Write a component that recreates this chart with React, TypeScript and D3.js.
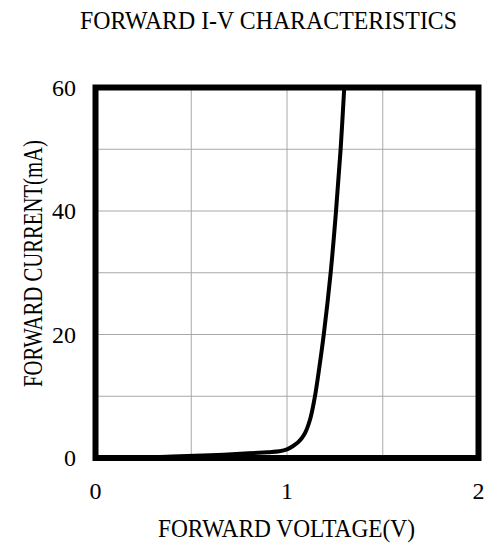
import React, { useEffect, useRef } from "react";
import * as d3 from "d3";

// forward voltage (V) vs forward current (mA)
const voltage = [0, 0.2, 0.4, 0.6, 0.8, 0.9, 0.96, 1.0, 1.03, 1.06, 1.09, 1.12, 1.146, 1.168, 1.192, 1.228, 1.256, 1.28, 1.299];
const current = [0, 0.05, 0.25, 0.45, 0.75, 0.95, 1.1, 1.4, 1.9, 2.6, 3.8, 6.2, 10, 14.5, 20, 30, 40, 50, 60];

const xTicks = [0, 1, 2];
const yTicks = [0, 20, 40, 60];
const xGrid = [0.5, 1, 1.5];
const yGrid = [10, 20, 30, 40, 50];

const title = "FORWARD I-V CHARACTERISTICS";
const xTitle = "FORWARD VOLTAGE(V)";
const yTitle = "FORWARD CURRENT(mA)";

export default function App() {
  const ref = useRef<SVGSVGElement>(null);

  useEffect(() => {
    const svg = d3.select(ref.current);
    svg.selectAll("*").remove();

    const font = "'Liberation Serif', 'Times New Roman', serif";
    const x = d3.scaleLinear().domain([0, 2]).range([95.5, 478.5]);
    const y = d3.scaleLinear().domain([0, 60]).range([458, 87.5]);

    svg.append("rect").attr("width", 497).attr("height", 545).attr("fill", "#fff");

    // grid
    svg
      .append("g")
      .selectAll("line")
      .data(xGrid)
      .join("line")
      .attr("x1", (d) => x(d))
      .attr("x2", (d) => x(d))
      .attr("y1", y(0))
      .attr("y2", y(60))
      .attr("stroke", "#a8a8a8")
      .attr("stroke-width", 1);

    svg
      .append("g")
      .selectAll("line")
      .data(yGrid)
      .join("line")
      .attr("x1", x(0))
      .attr("x2", x(2))
      .attr("y1", (d) => y(d))
      .attr("y2", (d) => y(d))
      .attr("stroke", "#a8a8a8")
      .attr("stroke-width", 1);

    // curve
    const pts = voltage.map((v, i) => [v, current[i]] as [number, number]);
    const line = d3
      .line<[number, number]>()
      .x((d) => x(d[0]))
      .y((d) => y(d[1]))
      .curve(d3.curveCatmullRom.alpha(0.5));

    svg
      .append("path")
      .datum(pts)
      .attr("fill", "none")
      .attr("stroke", "#000")
      .attr("stroke-width", 4)
      .attr("d", line);

    // frame
    svg
      .append("rect")
      .attr("x", x(0))
      .attr("y", y(60))
      .attr("width", x(2) - x(0))
      .attr("height", y(0) - y(60))
      .attr("fill", "none")
      .attr("stroke", "#000")
      .attr("stroke-width", 6);

    // tick labels
    svg
      .append("g")
      .selectAll("text")
      .data(xTicks)
      .join("text")
      .attr("x", (d) => x(d))
      .attr("y", 499)
      .attr("text-anchor", "middle")
      .attr("font-family", font)
      .attr("font-size", 24)
      .text((d) => d);

    svg
      .append("g")
      .selectAll("text")
      .data(yTicks)
      .join("text")
      .attr("x", 76)
      .attr("y", (d) => y(d))
      .attr("dy", "0.34em")
      .attr("text-anchor", "end")
      .attr("font-family", font)
      .attr("font-size", 24)
      .text((d) => d);

    // titles
    svg
      .append("text")
      .attr("x", 80)
      .attr("y", 29)
      .attr("font-family", font)
      .attr("font-size", 25)
      .attr("textLength", 377)
      .attr("lengthAdjust", "spacingAndGlyphs")
      .text(title);

    svg
      .append("text")
      .attr("x", 158)
      .attr("y", 537)
      .attr("font-family", font)
      .attr("font-size", 25)
      .attr("textLength", 257)
      .attr("lengthAdjust", "spacingAndGlyphs")
      .text(xTitle);

    svg
      .append("text")
      .attr("transform", "translate(42,387) rotate(-90)")
      .attr("font-family", font)
      .attr("font-size", 27)
      .attr("textLength", 247)
      .attr("lengthAdjust", "spacingAndGlyphs")
      .text(yTitle);
  }, []);

  return (
    <svg
      ref={ref}
      width={497}
      height={545}
      style={{ position: "absolute", left: 0, top: 0, display: "block" }}
    ></svg>
  );
}
